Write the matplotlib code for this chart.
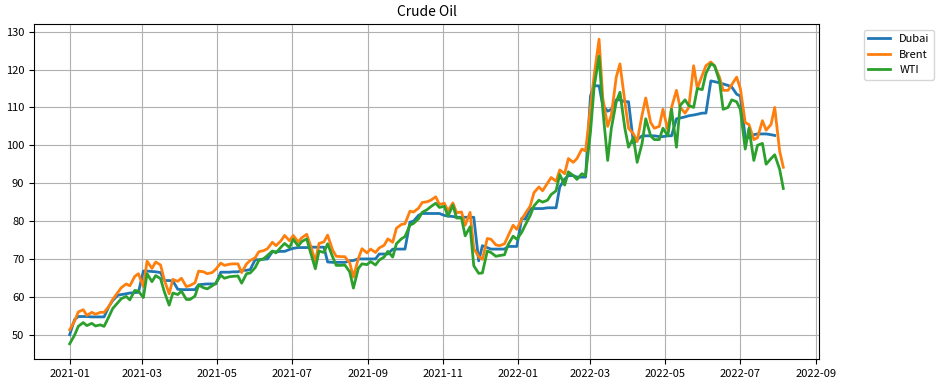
import numpy as np
import pandas as pd
import matplotlib
matplotlib.use('Agg')
import matplotlib.pyplot as plt
import matplotlib.dates as mdates

plt.rcParams['font.family'] = ['Noto Sans CJK KR', 'DejaVu Sans']

# twice-weekly samples (Tue / Fri), 2021-01-01 .. 2022-08-05
dates = pd.date_range('2021-01-01', '2022-08-05', freq='W-TUE').union(
    pd.date_range('2021-01-01', '2022-08-05', freq='W-FRI'))

dubai = [
    50.0, 54.0, 54.8, 54.8, 54.8, 54.7, 54.7, 54.7, 54.7,
    57.5, 59.0, 60.4, 60.6, 60.8, 61.0, 61.1, 61.2,
    66.8, 66.8, 66.7, 66.6, 66.4, 64.3, 64.3, 64.2, 62.0,
    61.9, 61.9, 61.9, 61.9, 63.2, 63.3, 63.4, 63.4, 63.4,
    66.5, 66.5, 66.5, 66.6, 66.6, 67.0, 67.0, 67.2,
    69.8, 69.8, 69.9, 70.0, 71.9, 71.9, 72.0, 72.0, 72.5,
    72.8, 73.0, 73.0, 73.0, 73.1, 73.1, 73.1, 73.1, 69.2,
    69.1, 69.1, 69.1, 69.1, 69.5, 69.6, 70.0, 70.0, 70.0,
    70.0, 70.0, 71.3, 71.3, 71.3, 72.6, 72.6, 72.6,
    72.6, 79.7, 80.0, 81.5, 82.0, 82.0, 82.0, 82.0, 82.0,
    81.5, 81.3, 81.2, 81.0, 81.0, 81.0, 81.0, 81.0, 69.5,
    73.5, 73.0, 72.6, 72.6, 72.6, 72.6, 73.3, 73.3, 73.3,
    80.7, 80.5, 83.3, 83.3, 83.3, 83.3, 83.5, 83.5,
    83.5, 89.0, 91.1, 92.0, 92.0, 91.6, 91.6, 91.6,
    113.0, 115.7, 115.7, 110.5, 109.0, 109.5, 112.0, 112.0, 111.5,
    111.5, 100.5, 101.5, 102.5, 102.5, 102.5, 102.5, 102.3, 102.3,
    102.5, 102.5, 107.0, 107.2, 107.5, 107.8, 108.0, 108.2, 108.5,
    108.5, 117.0, 116.8, 116.5, 116.2, 115.8, 115.4, 113.5,
    113.0, 102.0, 102.0, 102.8, 103.0, 103.0, 103.0, 102.8, 102.6,
    np.nan, np.nan,
]

brent = [
    51.3, 53.6, 56.0, 56.6, 55.1, 55.9, 55.4, 55.9, 55.9,
    57.5, 59.3, 61.1, 62.4, 63.4, 62.9, 65.4, 66.1,
    62.7, 69.4, 67.5, 69.2, 68.4, 64.5, 60.8, 64.6, 64.1,
    64.9, 62.7, 63.0, 63.7, 66.8, 66.6, 66.1, 66.4, 67.3,
    68.9, 68.3, 68.6, 68.7, 68.7, 66.4, 68.7, 69.6,
    70.3, 71.9, 72.2, 72.7, 74.4, 73.5, 74.8, 76.2, 74.8,
    76.2, 74.5, 75.6, 76.5, 73.6, 69.4, 74.1, 74.5, 76.3,
    72.4, 70.7, 70.6, 70.6, 69.0, 65.2, 70.1, 72.7, 71.6,
    72.6, 71.7, 72.9, 73.6, 75.3, 74.4, 78.1, 79.1,
    79.3, 82.6, 82.4, 83.4, 84.9, 85.1, 85.5, 86.4, 84.4,
    84.7, 82.7, 84.8, 82.2, 82.4, 78.9, 82.3, 72.7, 70.6,
    69.9, 75.4, 75.2, 73.7, 73.5, 74.0, 76.1, 78.9, 77.8,
    80.5, 82.0, 84.0, 87.5, 89.0, 88.0, 90.0, 91.5,
    90.5, 93.5, 92.5, 96.5, 95.5, 96.5, 99.0, 98.5,
    110.0, 118.5, 128.0, 112.5, 105.0, 108.0, 118.0, 121.5, 111.5,
    104.5, 103.0, 101.0, 108.0, 112.5, 106.0, 104.5, 105.0, 109.5,
    104.0, 110.0, 114.5, 110.0, 108.5, 110.0, 121.0, 115.0, 118.5,
    121.0, 122.0, 121.0, 118.0, 114.5, 114.5, 116.0, 118.0,
    115.0, 106.0, 105.5, 101.5, 102.0, 106.5, 104.0, 105.5, 110.0,
    98.5, 94.2,
]

wti = [
    47.6, 49.9, 52.2, 53.2, 52.4, 53.0, 52.3, 52.6, 52.2,
    54.8, 56.9, 58.4, 59.5, 60.1, 59.2, 61.7, 61.5,
    59.8, 66.1, 64.0, 65.6, 64.8, 61.4, 57.8, 61.0, 60.6,
    61.5, 59.3, 59.3, 60.2, 63.1, 62.4, 62.1, 62.9, 63.6,
    65.7, 64.9, 65.3, 65.4, 65.5, 63.6, 66.1, 66.3,
    67.7, 69.6, 70.1, 70.9, 72.1, 71.6, 73.1, 74.1, 73.0,
    75.2, 73.4, 74.6, 75.3, 71.8, 67.4, 72.1, 71.7, 74.0,
    70.6, 68.3, 68.3, 68.4, 66.6, 62.3, 67.5, 68.7, 68.5,
    69.3, 68.4, 69.7, 70.5, 72.0, 70.5, 74.0, 75.3,
    75.9, 78.9, 79.4, 80.6, 82.3, 83.0, 83.8, 84.7, 83.6,
    83.9, 81.3, 84.2, 80.8, 80.8, 76.1, 78.5, 68.2, 66.2,
    66.3, 72.1, 71.7, 70.7, 70.9, 71.1, 73.8, 76.0, 75.2,
    77.0, 79.0, 81.5, 84.0, 85.5, 85.0, 85.5, 87.0,
    88.0, 92.3, 89.5, 93.0, 92.0, 91.0, 92.5, 92.0,
    103.5, 115.5, 123.5, 109.5, 96.0, 104.5, 111.5, 114.0, 104.5,
    99.5, 102.0, 95.5, 100.5, 107.0, 102.5, 101.5, 101.5, 104.5,
    102.5, 109.5, 99.5, 110.5, 112.0, 110.5, 110.0, 115.0, 114.7,
    119.0, 121.5, 121.0, 117.0, 109.5, 110.0, 112.0, 111.5,
    109.5, 99.0, 104.5, 96.0, 100.0, 100.5, 95.0, 96.5, 97.5,
    93.7, 88.6,
]

assert len(dates) == len(dubai) == len(brent) == len(wti)

fig = plt.figure(figsize=(9.39, 3.86), dpi=100)
ax = fig.add_axes([0.0362, 0.0699, 0.836, 0.8679])
ax.plot(dates, dubai, lw=2, label='Dubai')
ax.plot(dates, brent, lw=2, label='Brent')
ax.plot(dates, wti, lw=2, label='WTI')

ax.xaxis.set_major_locator(mdates.MonthLocator(bymonth=[1, 3, 5, 7, 9, 11]))
ax.xaxis.set_major_formatter(mdates.DateFormatter('%Y-%m'))
ax.tick_params(labelsize=8)
ax.grid(True)
ax.set_title('Crude Oil', fontsize=10)
ax.legend(bbox_to_anchor=(1.05, 1), loc='upper left', fontsize=8)

fig.savefig('out.png', dpi=100)
